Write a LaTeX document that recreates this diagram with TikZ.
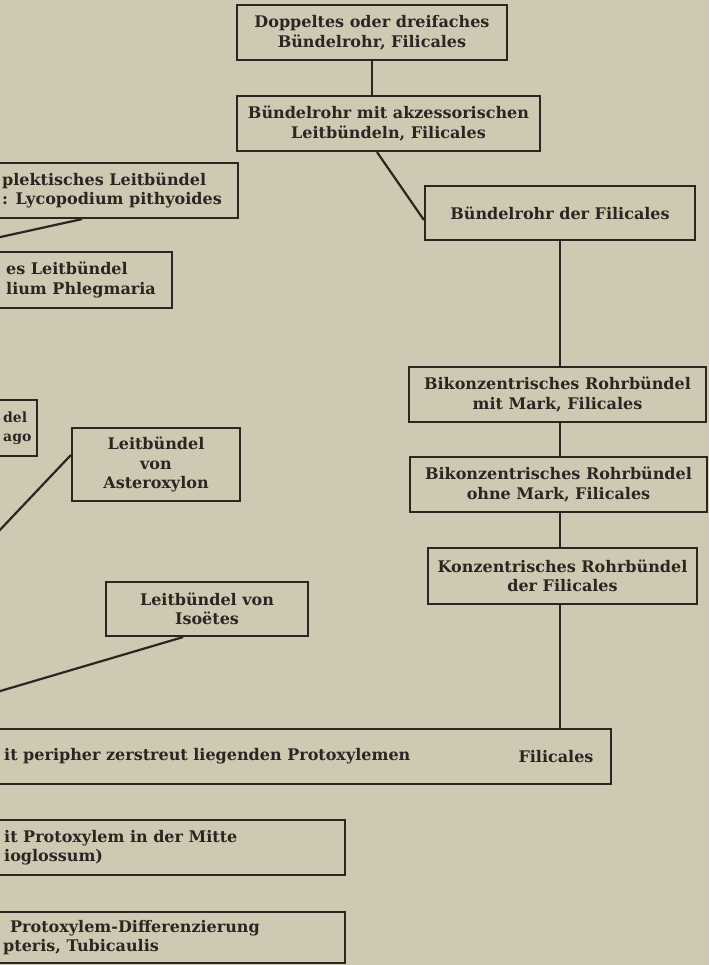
\documentclass[tikz,border=0pt]{standalone}
\usepackage{fontspec}
\setmainfont{DejaVu Serif}
\definecolor{paper}{RGB}{207,201,179}
\definecolor{ink}{RGB}{42,38,34}
\newcommand{\boxfont}{\fontsize{16}{19.5}\selectfont\bfseries}
\tikzset{
  box/.style={draw=ink, line width=2.2pt, fill=paper, align=center, inner sep=0pt, font=\boxfont, text=ink},
  txt/.style={align=left, inner sep=0pt, font=\boxfont, text=ink},
  link/.style={draw=ink, line width=2.2pt},
}
\begin{document}
\begin{tikzpicture}[x=1pt, y=-1pt]
  \useasboundingbox (0,0) rectangle (709,965);
  \clip (0,0) rectangle (709,965);
  \fill[paper] (0,0) rectangle (709,965);

  % Filicales, right column
  \node[box, minimum width=270, minimum height=55] (dopp) at (372,32.5) {Doppeltes oder dreifaches\\Bündelrohr, Filicales};
  \node[box, minimum width=303, minimum height=55] (akz) at (388.5,123.5) {Bündelrohr mit akzessorischen\\Leitbündeln, Filicales};
  \node[box, minimum width=270, minimum height=54] (filic) at (560,213) {Bündelrohr der Filicales};
  \node[box, minimum width=297, minimum height=55] (bimark) at (557.5,394.5) {Bikonzentrisches Rohrbündel\\mit Mark, Filicales};
  \node[box, minimum width=297, minimum height=55] (biohne) at (558.5,484.5) {Bikonzentrisches Rohrbündel\\ohne Mark, Filicales};
  \node[box, minimum width=269, minimum height=56] (konz) at (562.5,576) {Konzentrisches Rohrbündel\\der Filicales};

  % boxes cut by the left margin
  \node[box, minimum width=268, minimum height=55] (pith) at (104,190.5) {};
  \node[txt, anchor=west] (pithT) at (2,190.5) {plektisches Leitbündel\\: Lycopodium pithyoides};
  \node[box, minimum width=202, minimum height=56] (phleg) at (71,280) {};
  \node[txt, anchor=west] (phlegT) at (6,280) {es Leitbündel\\lium Phlegmaria};
  \node[box, minimum width=67, minimum height=56] (selago) at (3.5,428) {};
  \node[txt, anchor=west, font=\fontsize{14}{19.5}\selectfont\bfseries] (selagoT) at (3,428) {del\\ago};
  \node[box, minimum width=168, minimum height=73] (aster) at (156,464.5) {Leitbündel\\von\\Asteroxylon};
  \node[box, minimum width=202, minimum height=54] (isoe) at (207,609) {Leitbündel von\\Isoëtes};

  \node[box, minimum width=641, minimum height=55] (peri) at (290.5,756.5) {};
  \node[txt, anchor=west] (periT) at (4,756.5) {it peripher zerstreut liegenden Protoxylemen};
  \node[txt] (periF) at (556,756.5) {Filicales};
  \node[box, minimum width=375, minimum height=55] (mitte) at (157.5,847.5) {};
  \node[txt, anchor=west] (mitteT) at (4,847.5) {it Protoxylem in der Mitte\\ioglossum)};
  \node[box, minimum width=375, minimum height=51] (diff) at (157.5,937.5) {};
  \node[txt, anchor=west] (diffT) at (3,937.5) {\hspace*{7pt}Protoxylem-Differenzierung\\pteris, Tubicaulis};

  % connectors
  \coordinate (spine) at (filic.south);
  \coordinate (ax) at (82,0);
  \coordinate (ex) at (183,0);
  \coordinate (aend) at (-20,241.5);
  \coordinate (dend) at (-20,551);
  \coordinate (eend) at (-20,697);
  \draw[link] (dopp.south) -- (dopp.south |- akz.north);
  \draw[link] ([xshift=-11.5pt]akz.south) -- ([yshift=-7pt]filic.west);
  \draw[link] (filic.south) -- (bimark.north -| spine);
  \draw[link] (bimark.south -| spine) -- (biohne.north -| spine);
  \draw[link] (biohne.south -| spine) -- (konz.north -| spine);
  \draw[link] (konz.south -| spine) -- (peri.north -| spine);
  \draw[link] (pith.south -| ax) -- (aend);
  \draw[link] ([yshift=9.5pt]aster.west) -- (dend);
  \draw[link] (isoe.south -| ex) -- (eend);
\end{tikzpicture}
\end{document}
